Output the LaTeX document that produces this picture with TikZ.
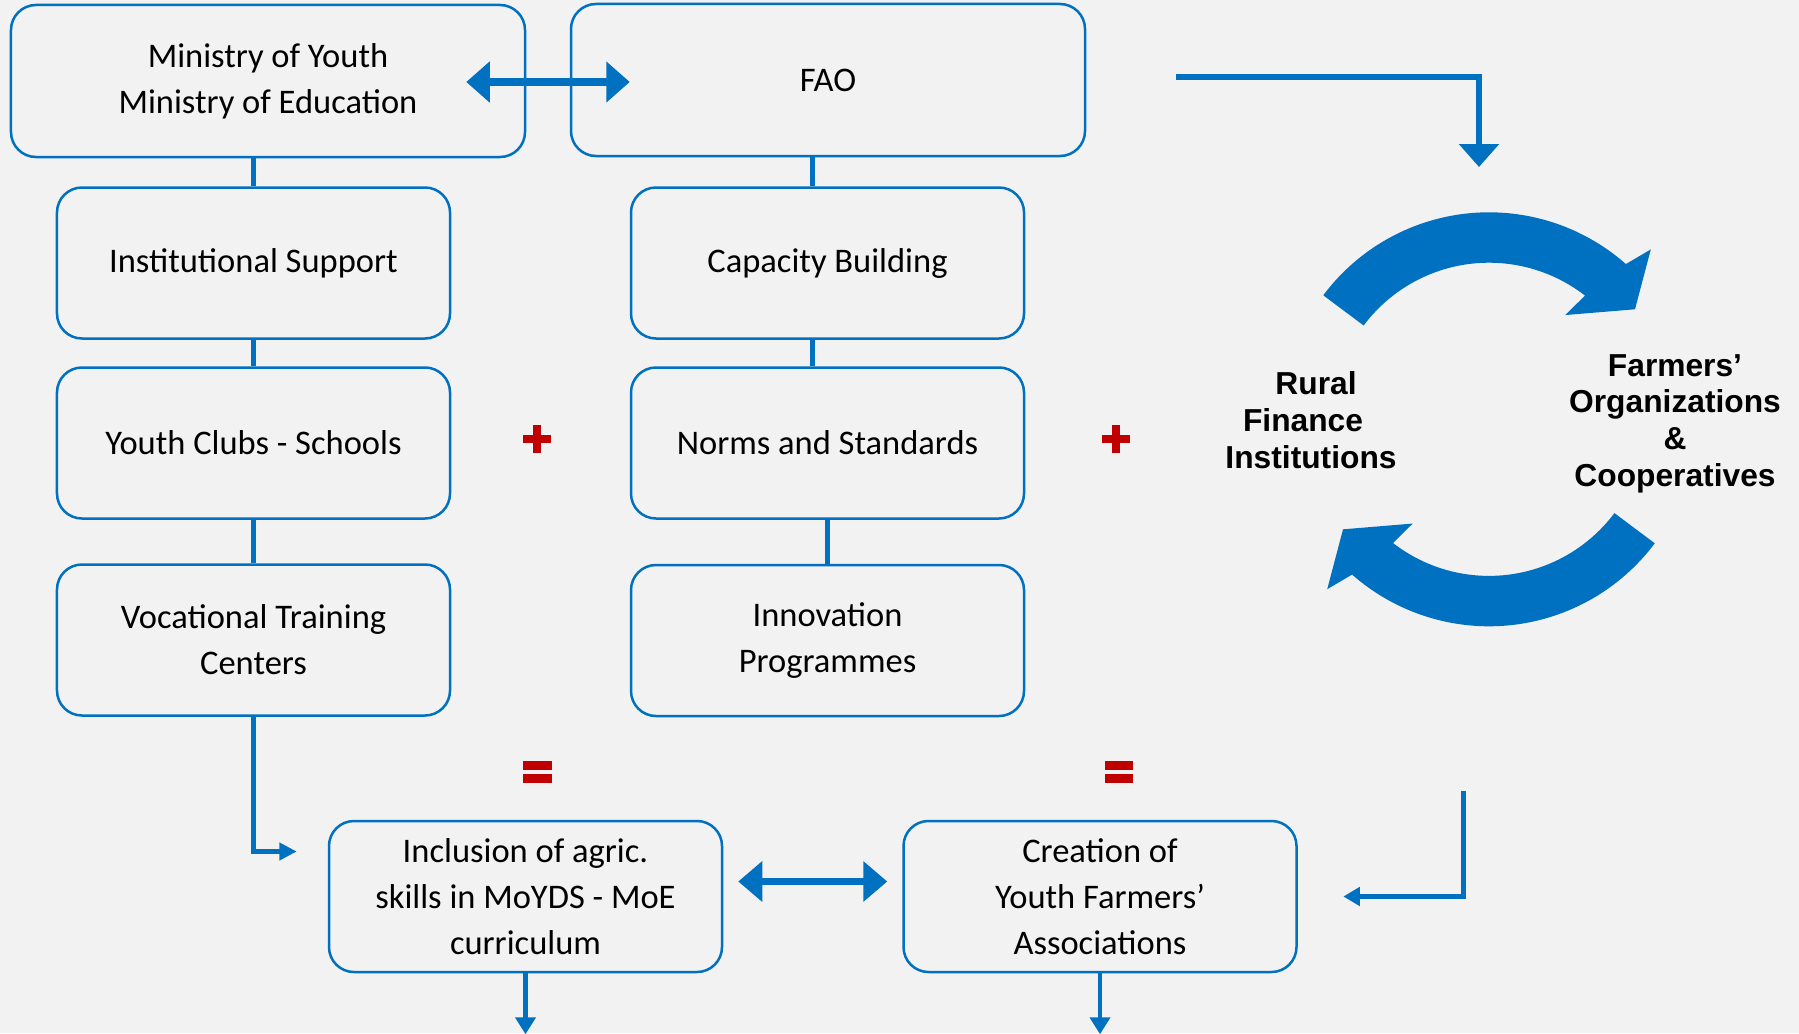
\documentclass[tikz,border=0pt]{standalone}
\usepackage{fontspec}
\setmainfont{Carlito}
\newfontfamily\cyclefont{Liberation Sans}
\usetikzlibrary{arrows.meta,calc}
\definecolor{linkblue}{HTML}{0070C0}
\definecolor{signred}{HTML}{C00000}
\definecolor{paper}{HTML}{F2F2F2}
\begin{document}
\begin{tikzpicture}[x=0.4pt,y=-0.4pt,
  box/.style={draw=linkblue, line width=1pt, rounded corners=10pt,
    minimum width=157.2pt, minimum height=60.4pt, align=center,
    inner sep=0pt, font=\fontsize{13.8}{18.4}\selectfont},
  widebox/.style={box, minimum width=205.6pt, minimum height=60.8pt},
  conn/.style={draw=linkblue, line width=2.2pt},
  dbl/.style={draw=linkblue, line width=3.2pt,
    >={Triangle[length=9.4pt,width=15.9pt]}, <->},
  downarrow/.style={draw=linkblue, line width=1.8pt,
    -{Triangle[length=6.8pt,width=8pt]}},
  cycletext/.style={align=center, inner sep=0pt,
    font=\cyclefont\bfseries\fontsize{12.7}{14.7}\selectfont}
]
% canvas
\useasboundingbox (0,0) rectangle (1799,1033);
\fill[paper] (0,0) rectangle (1799,1033);

% boxes
\node[widebox] (min) at (268,81) {Ministry of Youth\\Ministry of Education};
\node[widebox] (fao) at (828,80) {FAO};
\node[box] (inst) at (253.5,263) {Institutional Support};
\node[box] (cap) at (827.5,263) {Capacity Building};
\node[box] (youth) at (253.5,443) {Youth Clubs - Schools};
\node[box] (norms) at (827.5,443) {Norms and Standards};
\node[box] (voc) at (253.5,640) {Vocational Training\\Centers};
\node[box] (innov) at (827.5,640.5) {Innovation\\Programmes};
\node[box] (incl) at (525.5,896.5) {Inclusion of agric.\\skills in MoYDS - MoE\\curriculum};
\node[box] (creat) at (1100,896.5) {Creation of\\Youth Farmers’\\Associations};

% vertical links of the two columns
\draw[conn] (inst.north |- min.south) -- (inst.north);
\draw[conn] (inst.south) -- (youth.north);
\draw[conn] (youth.south) -- (voc.north);
\coordinate (capin) at ($(cap.north)+(-15,0)$);
\draw[conn] (capin |- fao.south) -- (capin);
\coordinate (capout) at ($(cap.south)+(-15,0)$);
\draw[conn] (capout) -- (capout |- norms.north);
\draw[conn] (norms.south) -- (innov.north);

% vocational centres feed the curriculum box
\coordinate (inclin) at ($(incl.west)+(-31,-45)$);
\draw[conn, line width=2pt, -{Triangle[length=7pt,width=6.8pt]}] (voc.south) |- (inclin);

% two-way links
\draw[dbl] ($(min.east)+(-60,1)$) -- ($(fao.west)+(60,2)$);
\draw[dbl, line width=2.6pt, >={Triangle[length=9.6pt,width=15.7pt]}]
  ($(incl.east)+(15,-15)$) -- ($(creat.west)+(-15,-15)$);

% outputs
\draw[downarrow] (incl.south) -- ++(0,61);
\draw[downarrow] (creat.south) -- ++(0,61);

% feed into and out of the cycle
\coordinate (feedin) at (1176,77);
\coordinate (cyclein) at (1479,167);
\draw[conn, line width=2.6pt, -{Triangle[length=9.2pt,width=15.6pt]}] (feedin) -| (cyclein);
\coordinate (cycleout) at (1463,791);
\draw[conn, line width=2pt, -{Triangle[length=6.6pt,width=7.3pt]}]
  (cycleout) |- ($(creat.east)+(45.6,0)$);

% plus and equals signs
\foreach \px in {537.2,1116.3}{
  \fill[signred] (\px-14.15,435) rectangle (\px+14.15,443.3);
  \fill[signred] (\px-4,425) rectangle (\px+4,453.3);
}
\foreach \ex in {537.5,1118.8}{
  \fill[signred] (\ex-14.15,761) rectangle (\ex+14.15,769.7);
  \fill[signred] (\ex-14.15,774) rectangle (\ex+14.15,782.7);
}

% circular arrows
\begin{scope}[shift={(1489,419.3)}, y=0.4pt]
  \foreach \r in {0,180}{
    \fill[linkblue, rotate=\r] (143.2:207) arc[start angle=143.2, end angle=48.6, radius=207]
      -- (46.4:234.6) -- (37:182.8) -- (53.8:129.2) -- (52.2:156.6)
      arc[start angle=52.2, end angle=143.2, radius=156.6] -- cycle;
  }
\end{scope}

% cycle labels
\node[cycletext] (rfi) at (1311,420) {\hspace*{4pt}Rural\\\hspace*{-6.4pt}Finance\\Institutions};
\node[cycletext] (foc) at (1675,423.5) {Farmers’\\Organizations\\\&\\Cooperatives};
\end{tikzpicture}
\end{document}
